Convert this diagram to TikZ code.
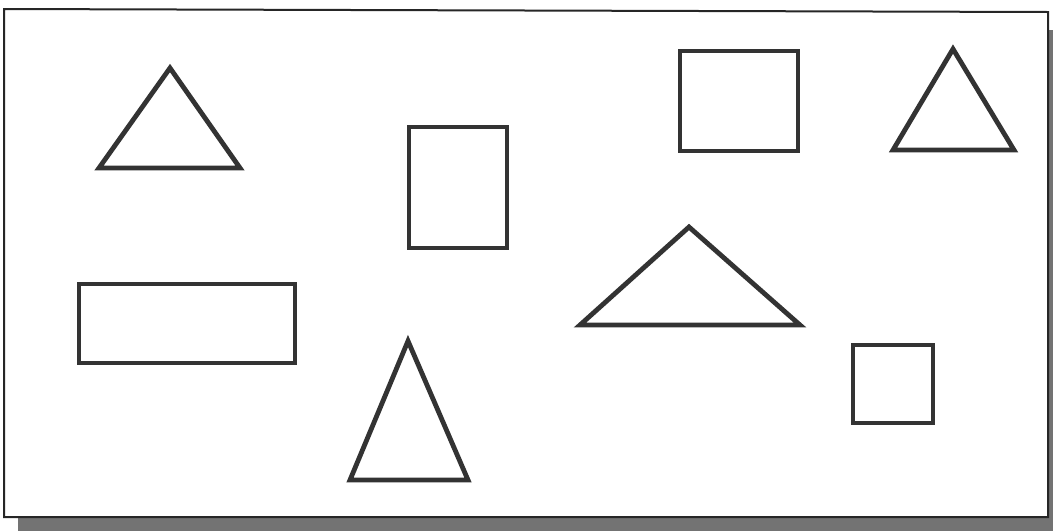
\documentclass[tikz,border=0pt]{standalone}
\usepackage{tikz}
\tikzset{
  shapeline/.style={
    draw=black!80,
    line width=4.8pt,
    line join=miter
  },
  frameline/.style={
    draw=black!85,
    line width=2pt
  },
  shadowfill/.style={
    fill=black!55
  }
}

\begin{document}
\begin{tikzpicture}[x=1pt,y=-1pt]
    \useasboundingbox (0,0) rectangle (1053,531);
    % shadow and frame
    \fill[shadowfill] (18,517) rectangle (1053,531);
    \fill[shadowfill] (1047,30) rectangle (1053,531);
    \draw[frameline, fill=white] (4,9) -- (1048,12) -- (1048,517) -- (4,517) -- cycle;

    % triangles
    \draw[shapeline] (170,68) -- (240,168) -- (99,168) -- cycle;
    \draw[shapeline] (953,49) -- (1014,150) -- (893,150) -- cycle;
    \draw[shapeline] (689,227) -- (800,325) -- (580,325) -- cycle;
    \draw[shapeline] (408,341) -- (468,480) -- (350,480) -- cycle;

    % rectangles
    \draw[shapeline] (409,127) rectangle (507,248);
    \draw[shapeline] (680,51) rectangle (798,151);
    \draw[shapeline] (79,284) rectangle (295,363);
    \draw[shapeline] (853,345) rectangle (933,423);
\end{tikzpicture}
\end{document}
